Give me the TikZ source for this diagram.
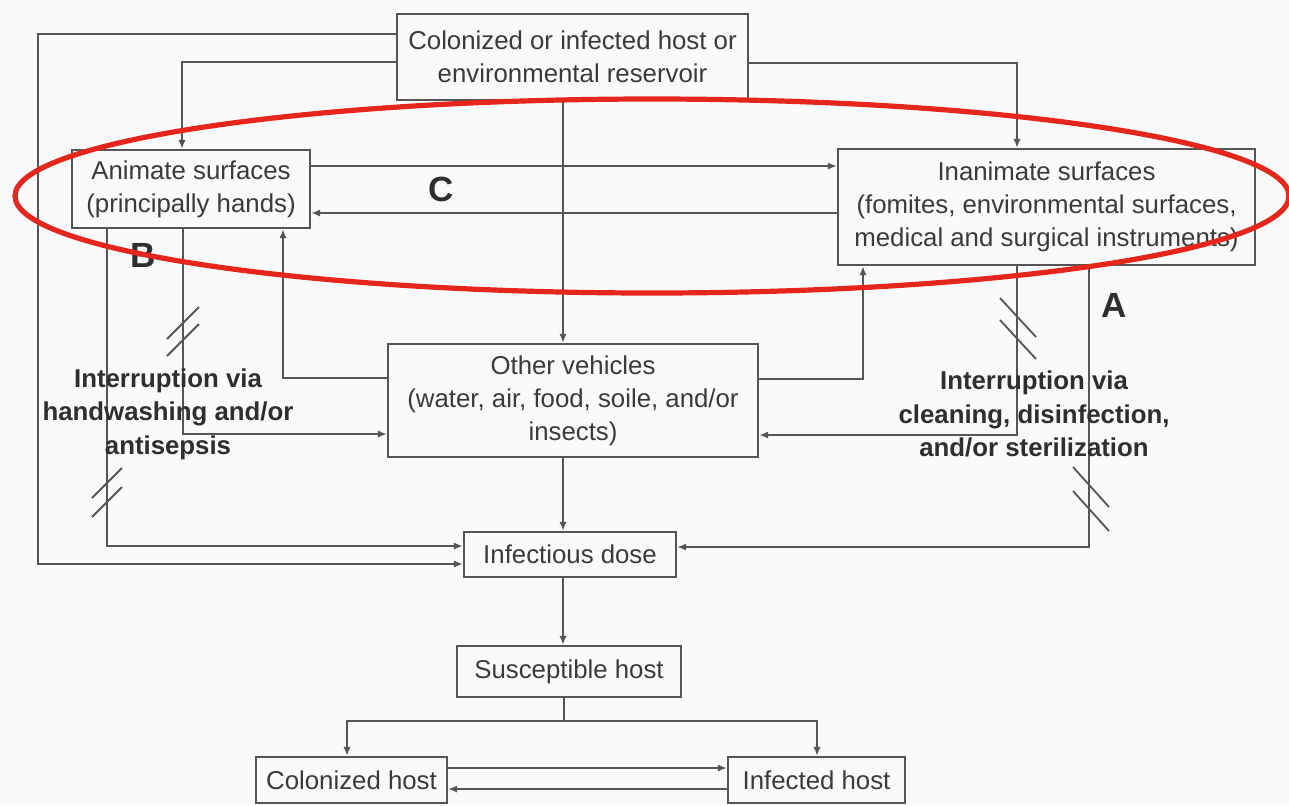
\documentclass[tikz,border=0pt]{standalone}
\usepackage{fontspec}
\setmainfont{Liberation Sans}
\usetikzlibrary{arrows.meta}
\definecolor{ln}{HTML}{555555}
\definecolor{tx}{HTML}{3A3A3A}
\definecolor{lb}{HTML}{2E2E2E}
\definecolor{rd}{HTML}{E4261C}
\definecolor{bg}{HTML}{FAFAFA}
\begin{document}
\begin{tikzpicture}[x=0.5pt,y=-0.5pt,
  box/.style={draw=ln, line width=1.1pt, text=tx, align=center, inner sep=0pt,
    font=\fontsize{12.9}{16.5}\selectfont},
  conn/.style={draw=ln, line width=0.9pt},
  arr/.style={conn, -{Latex[length=4.5pt,width=3.6pt]}},
  slashmark/.style={draw=ln, line width=0.9pt},
  lbl/.style={text=lb, align=center, inner sep=0pt,
    font=\fontsize{12.9}{16.75}\selectfont\bfseries},
  letter/.style={text=lb, inner sep=0pt, font=\fontsize{17.5}{20}\selectfont\bfseries},
  ring/.style={draw=rd, line width=2.6pt}]

\fill[bg] (0,0) rectangle (1289,805);
\useasboundingbox (0,0) rectangle (1289,805);

% nodes
\node[box, minimum width=175.5pt, minimum height=43pt] (top) at (572.5,57)
  {Colonized or infected host or\\environmental reservoir};
\node[box, minimum width=119pt, minimum height=39pt] (animate) at (191,189)
  {Animate surfaces\\(principally hands)};
\node[box, minimum width=208.5pt, minimum height=58pt] (inanimate) at (1046.5,207)
  {Inanimate surfaces\\(fomites, environmental surfaces,\\medical and surgical instruments)};
\node[box, minimum width=185pt, minimum height=56.5pt] (other) at (573,400.5)
  {Other vehicles\\(water, air, food, soile, and/or\\insects)};
\node[box, minimum width=106pt, minimum height=22.5pt] (inf) at (570,554.5)
  {Infectious dose};
\node[box, minimum width=112pt, minimum height=25.5pt] (sus) at (569,671.5)
  {Susceptible host};
\node[box, minimum width=95.5pt, minimum height=23pt] (col) at (351.5,780)
  {Colonized host};
\node[box, minimum width=88.5pt, minimum height=23pt] (infh) at (816.5,780)
  {Infected host};

% connectors from the reservoir
\draw[arr] (top.west |- 0,34) -| (38,564) -- (inf.west |- 0,564);
\draw[arr] (top.west |- 0,62) -| (animate.north -| 182,0);
\draw[arr] (top.east |- 0,63) -| (inanimate.north -| 1017,0);
\draw[arr] (top.south -| 563,0) -- (other.north -| 563,0);

% between surfaces
\draw[arr] (animate.east |- 0,166) -- (inanimate.west |- 0,166);
\draw[arr] (inanimate.west |- 0,213) -- (animate.east |- 0,213);

% left side
\draw[arr] (animate.south -| 107,0) |- (inf.west |- 0,546);
\draw[arr] (animate.south -| 183,0) |- (other.west |- 0,434);
\draw[arr] (other.west |- 0,378) -| (animate.south -| 283,0);

% right side
\draw[arr] (other.east |- 0,379) -| (inanimate.south -| 863,0);
\draw[arr] (inanimate.south -| 1017,0) |- (other.east |- 0,435);
\draw[arr] (inanimate.south -| 1089,0) |- (inf.east |- 0,547);

% main chain
\draw[arr] (other.south -| 563,0) -- (inf.north -| 563,0);
\draw[arr] (inf.south -| 563,0) -- (sus.north -| 563,0);
\draw[arr] (sus.south -| 564,0) |- (347,721) -- (col.north -| 347,0);
\draw[arr] (sus.south -| 564,0) |- (817,721) -- (infh.north -| 817,0);
\draw[arr] (col.east |- 0,768) -- (infh.west |- 0,768);
\draw[arr] (infh.west |- 0,789) -- (col.east |- 0,789);

% interruption marks
\draw[slashmark] (167,339) -- (199,307);
\draw[slashmark] (167,356) -- (199,324);
\draw[slashmark] (92,498) -- (122,468);
\draw[slashmark] (92,517) -- (122,487);
\draw[slashmark] (1000,298) -- (1036,337);
\draw[slashmark] (1000,320) -- (1036,359);
\draw[slashmark] (1073,467) -- (1109,507);
\draw[slashmark] (1073,491) -- (1109,531);

% labels
\node[lbl] (lblL) at (168,414) {Interruption via\\handwashing and/or\\antisepsis};
\node[lbl] (lblR) at (1034,414) {Interruption via\\cleaning, disinfection,\\and/or sterilization};
\node[letter] (lC) at (441,189) {C};
\node[letter] (lB) at (143,255) {B};
\node[letter] (lA) at (1114,305) {A};

% highlight ring
\draw[ring] (652,196) ellipse [x radius=318.5pt, y radius=48.5pt];
\end{tikzpicture}
\end{document}
